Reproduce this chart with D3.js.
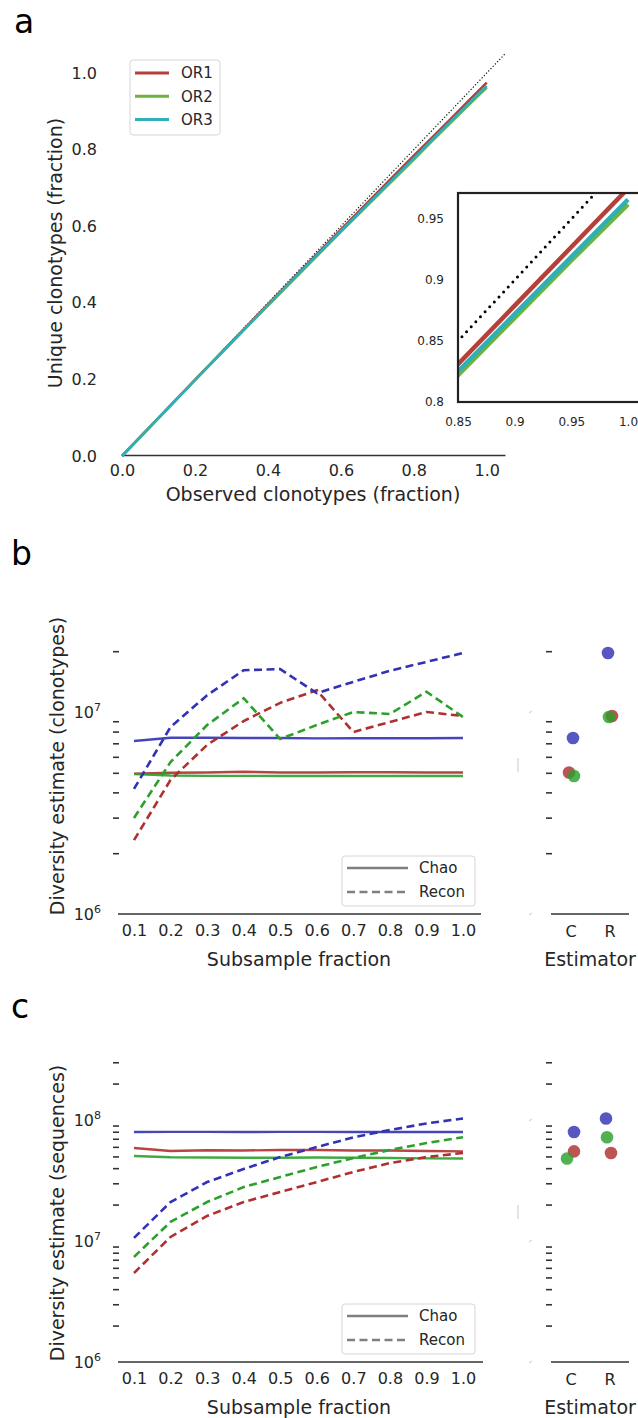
<!DOCTYPE HTML>
<html lang="en">
<head>
<meta charset="utf-8">
<title>clonotype diversity</title>
<style>
html, body {
    margin: 0;
    background: #fff;
 }
svg {
    display: block;
    font-family: "DejaVu Sans", sans-serif;
 }
.panel-letter {
    font-family: "DejaVu Sans", sans-serif;
    font-size: 33px;
    fill: #000;
 }
.title {
    font-size: 19px;
    fill: #262626;
 }
.legend text {
    font-size: 15px;
    fill: #262626;
 }
</style>
</head>
<body>

<svg id="chart" width="638" height="1418"></svg>

<script src="https://cdnjs.cloudflare.com/ajax/libs/d3/7.8.5/d3.min.js"></script>
<script>
(function() {
'use strict';

// ---- panel a : rarefaction (unique vs observed clonotypes)
const samples = ['OR1', 'OR2', 'OR3'];
const observedFrac = [0, 0.2, 0.4, 0.6, 0.8, 0.85, 0.9, 0.95, 1.0];
const uniqueOR1 = [0, 0.199, 0.396, 0.591, 0.784, 0.831, 0.879, 0.927, 0.975];
const uniqueOR2 = [0, 0.198, 0.393, 0.585, 0.774, 0.822, 0.869, 0.916, 0.962];
const uniqueOR3 = [0, 0.198, 0.394, 0.587, 0.777, 0.825, 0.872, 0.919, 0.966];
const diagonal = [0, 1.05];
const fracTicks = [0, 0.2, 0.4, 0.6, 0.8, 1.0];
const insetTicksX = [0.85, 0.9, 0.95, 1.0];
const insetLabelsX = ['0.85', '0.9', '0.95', '1.0'];
const insetTicksY = [0.8, 0.85, 0.9, 0.95];
const insetLabelsY = ['0.8', '0.85', '0.9', '0.95'];

// ---- panels b, c : diversity estimates vs subsample fraction
const subsample = [0.1, 0.2, 0.3, 0.4, 0.5, 0.6, 0.7, 0.8, 0.9, 1.0];
const estimators = ['C', 'R'];
const estimatorNames = ['Chao', 'Recon'];

const chaoClonOR1 = [4.95e6, 5.0e6, 5.02e6, 5.06e6, 5.02e6, 5.02e6, 5.03e6, 5.03e6, 5.02e6, 5.02e6];
const chaoClonOR2 = [4.93e6, 4.85e6, 4.83e6, 4.83e6, 4.82e6, 4.82e6, 4.82e6, 4.82e6, 4.82e6, 4.82e6];
const chaoClonOR3 = [7.18e6, 7.45e6, 7.45e6, 7.44e6, 7.43e6, 7.40e6, 7.41e6, 7.42e6, 7.42e6, 7.43e6];
const reconClonOR1 = [2.32e6, 4.61e6, 6.87e6, 9.02e6, 1.11e7, 1.28e7, 7.96e6, 8.92e6, 1.0e7, 9.55e6];
const reconClonOR2 = [2.99e6, 5.65e6, 8.62e6, 1.17e7, 7.35e6, 8.62e6, 1.0e7, 9.77e6, 1.26e7, 9.45e6];
const reconClonOR3 = [4.16e6, 8.43e6, 1.21e7, 1.61e7, 1.63e7, 1.24e7, 1.41e7, 1.60e7, 1.77e7, 1.96e7];

const chaoSeqOR1 = [5.87e7, 5.55e7, 5.62e7, 5.6e7, 5.65e7, 5.65e7, 5.6e7, 5.6e7, 5.55e7, 5.5e7];
const chaoSeqOR2 = [5.04e7, 4.92e7, 4.9e7, 4.88e7, 4.88e7, 4.9e7, 4.88e7, 4.85e7, 4.82e7, 4.8e7];
const chaoSeqOR3 = [7.96e7, 7.98e7, 7.98e7, 7.96e7, 7.98e7, 7.98e7, 7.96e7, 7.96e7, 7.96e7, 7.96e7];
const reconSeqOR1 = [5.44e6, 1.08e7, 1.61e7, 2.1e7, 2.54e7, 3.07e7, 3.72e7, 4.41e7, 4.94e7, 5.34e7];
const reconSeqOR2 = [7.38e6, 1.44e7, 2.1e7, 2.79e7, 3.38e7, 4.09e7, 4.85e7, 5.65e7, 6.45e7, 7.2e7];
const reconSeqOR3 = [1.06e7, 2.1e7, 3.07e7, 3.94e7, 4.94e7, 5.98e7, 7.19e7, 8.26e7, 9.37e7, 1.03e8];

const majorExpB = [6, 7];
const majorExpC = [6, 7, 8];

// styling
const colorsA = ['#b5403a', '#6db33f', '#2fb0b8'];
const colorsBC = ['#b03030', '#2ca02c', '#3232b4'];
const ink = '#262626';
// stripplot jitter, pixels, per estimator then sample
const jitterB = [[-1.5, 3.5, 2.5], [2.5, -0.5, -1.5]];
const jitterC = [[3.5, -3.5, 3.5], [1.5, -2.5, -3.5]];

const svg = d3.select('#chart');

function styleAxis(g, size) {
  g.attr('font-family', null).attr('font-size', size);
  g.selectAll('text').attr('fill', ink);
}

// ================= panel a =================
svg.append('text').attr('class', 'panel-letter').attr('x', 14).attr('y', 33).text('a');

const xA = d3.scaleLinear().domain([0, 1.05]).range([122, 505]);
const yA = d3.scaleLinear().domain([0, 1]).range([456, 73]);

const axA = svg.append('g').attr('transform', 'translate(0,455)')
  .call(d3.axisBottom(xA).tickValues(fracTicks).tickSize(0).tickSizeOuter(0)
    .tickPadding(10).tickFormat(d3.format('.1f')));
styleAxis(axA, 16);
axA.select('.domain').attr('stroke', '#333').attr('stroke-width', 1.5);

const ayA = svg.append('g').attr('transform', 'translate(122,0)')
  .call(d3.axisLeft(yA).tickValues(fracTicks).tickSize(0).tickPadding(25)
    .tickFormat(d3.format('.1f')));
styleAxis(ayA, 16);
ayA.select('.domain').remove();

const seriesA = [uniqueOR1, uniqueOR2, uniqueOR3];
const lineA = d3.line().x(d => xA(d[0])).y(d => yA(d[1]));

svg.append('path')
  .attr('d', lineA(diagonal.map(v => [v, v])))
  .attr('fill', 'none').attr('stroke', '#111')
  .attr('stroke-width', 1.2).attr('stroke-dasharray', '1.2,2');

seriesA.forEach((s, i) => {
  svg.append('path')
    .attr('d', lineA(observedFrac.map((x, j) => [x, s[j]])))
    .attr('fill', 'none').attr('stroke', colorsA[i]).attr('stroke-width', 2.6);
});

svg.append('text').attr('class', 'title')
  .attr('x', 313).attr('y', 501).attr('text-anchor', 'middle')
  .text('Observed clonotypes (fraction)');
svg.append('text').attr('class', 'title')
  .attr('transform', 'translate(62,253) rotate(-90)').attr('text-anchor', 'middle')
  .text('Unique clonotypes (fraction)');

// legend a
const legA = svg.append('g').attr('class', 'legend');
legA.append('rect').attr('x', 130).attr('y', 60).attr('width', 90).attr('height', 75)
  .attr('rx', 3).attr('fill', '#fff').attr('stroke', '#d6d6d6');
samples.forEach((name, i) => {
  const y = 73 + i * 23.3;
  legA.append('line').attr('x1', 135).attr('x2', 169).attr('y1', y).attr('y2', y)
    .attr('stroke', colorsA[i]).attr('stroke-width', 3);
  legA.append('text').attr('x', 181).attr('y', y).attr('dy', '0.35em').text(name);
});

// inset
const xI = d3.scaleLinear().domain([0.85, 1.0]).range([458, 628]);
const yI = d3.scaleLinear().domain([0.8, 0.95]).range([402, 219]);
const inset = svg.append('g');
svg.append('clipPath').attr('id', 'insetClip')
  .append('rect').attr('x', 458).attr('y', 193).attr('width', 240).attr('height', 209);
inset.append('rect').attr('x', 458).attr('y', 193).attr('width', 240).attr('height', 209)
  .attr('fill', '#fff');

const lineI = d3.line().x(d => xI(d[0])).y(d => yI(d[1]));
const insetPlot = inset.append('g').attr('clip-path', 'url(#insetClip)');
insetPlot.append('path')
  .attr('d', lineI(diagonal.map(v => [v, v])))
  .attr('fill', 'none').attr('stroke', '#000')
  .attr('stroke-width', 3).attr('stroke-linecap', 'round').attr('stroke-dasharray', '0,6.8');
seriesA.forEach((s, i) => {
  insetPlot.append('path')
    .attr('d', lineI(observedFrac.map((x, j) => [x, s[j]])))
    .attr('fill', 'none').attr('stroke', colorsA[i]).attr('stroke-width', 4.5);
});
inset.append('rect').attr('x', 458).attr('y', 193).attr('width', 240).attr('height', 209)
  .attr('fill', 'none').attr('stroke', '#222').attr('stroke-width', 2.2);

const axI = inset.append('g').attr('transform', 'translate(0,402)')
  .call(d3.axisBottom(xI).tickValues(insetTicksX).tickSize(0).tickPadding(15)
    .tickFormat((d, i) => insetLabelsX[i]));
styleAxis(axI, 12);
axI.select('.domain').remove();
const ayI = inset.append('g').attr('transform', 'translate(458,0)')
  .call(d3.axisLeft(yI).tickValues(insetTicksY).tickSize(0).tickPadding(14)
    .tickFormat((d, i) => insetLabelsY[i]));
styleAxis(ayI, 12);
ayI.select('.domain').remove();

// ================= panels b and c =================
function diversityPanel(cfg) {
  const x = d3.scaleLinear().domain([0.1, 1.0]).range([134, 463]);
  const y = d3.scaleLog().domain(cfg.yDomain).range(cfg.yRange);
  const xE = d3.scalePoint().domain(estimators).range([551, 629]).padding(0.5);
  const base = cfg.yRange[0];

  svg.append('text').attr('class', 'panel-letter')
    .attr('x', 11).attr('y', cfg.letterY).text(cfg.letter);

  const minors = y.ticks().filter(v => Math.abs(Math.log10(v) - Math.round(Math.log10(v))) > 1e-9);

  // left subplot axes
  const ay = svg.append('g').attr('transform', 'translate(119,0)')
    .call(d3.axisLeft(y).tickValues(minors).tickSize(6).tickFormat(''));
  ay.select('.domain').remove();
  ay.selectAll('.tick line').attr('stroke', '#333').attr('stroke-width', 1.6);

  cfg.majors.forEach(e => {
    const t = svg.append('text').attr('x', 101).attr('y', y(Math.pow(10, e)) + 5.5)
      .attr('text-anchor', 'end').attr('font-size', 16).attr('fill', ink);
    t.append('tspan').text('10');
    t.append('tspan').attr('font-size', 11).attr('dy', -7).text(e);
  });

  const ax = svg.append('g').attr('transform', 'translate(0,' + base + ')')
    .call(d3.axisBottom(x).tickValues(subsample).tickSize(0).tickPadding(11)
      .tickFormat(d3.format('.1f')));
  styleAxis(ax, 16);
  ax.select('.domain').remove();
  svg.append('line').attr('x1', 118).attr('x2', cfg.axisEnd).attr('y1', base).attr('y2', base)
    .attr('stroke', '#333').attr('stroke-width', 1.5);

  const line = d3.line().x(d => x(d[0])).y(d => y(d[1]));
  cfg.chao.forEach((s, i) => {
    svg.append('path').attr('d', line(subsample.map((f, j) => [f, s[j]])))
      .attr('fill', 'none').attr('stroke', colorsBC[i]).attr('stroke-width', 2.4)
      .attr('opacity', 0.9);
  });
  cfg.recon.forEach((s, i) => {
    svg.append('path').attr('d', line(subsample.map((f, j) => [f, s[j]])))
      .attr('fill', 'none').attr('stroke', colorsBC[i]).attr('stroke-width', 2.6)
      .attr('stroke-dasharray', '8,4.5');
  });

  // legend
  const leg = svg.append('g').attr('class', 'legend');
  leg.append('rect').attr('x', 342).attr('y', cfg.legendY).attr('width', 133).attr('height', 50)
    .attr('rx', 3).attr('fill', '#fff').attr('fill-opacity', 0.8).attr('stroke', '#d6d6d6');
  estimatorNames.forEach((name, i) => {
    const ly = cfg.legendY + 12 + i * 24;
    leg.append('line').attr('x1', 347).attr('x2', 408).attr('y1', ly).attr('y2', ly)
      .attr('stroke', '#7f7f7f').attr('stroke-width', 2.6)
      .attr('stroke-dasharray', i === 1 ? '8,4.5' : null);
    leg.append('text').attr('x', 419).attr('y', ly).attr('dy', '0.35em').text(name);
  });

  svg.append('text').attr('class', 'title')
    .attr('x', 299).attr('y', cfg.titleY).attr('text-anchor', 'middle')
    .text('Subsample fraction');
  svg.append('text').attr('class', 'title')
    .attr('transform', 'translate(64,' + cfg.yTitleMid + ') rotate(-90)')
    .attr('text-anchor', 'middle').text(cfg.yTitle);

  // right subplot: estimates at full sample
  const ayR = svg.append('g').attr('transform', 'translate(552,0)')
    .call(d3.axisLeft(y).tickValues(minors).tickSize(6).tickFormat(''));
  ayR.select('.domain').remove();
  ayR.selectAll('.tick line').attr('stroke', '#333').attr('stroke-width', 1.6);

  const axR = svg.append('g').attr('transform', 'translate(0,' + base + ')')
    .call(d3.axisBottom(xE).tickSize(0).tickPadding(12));
  styleAxis(axR, 16);
  axR.select('.domain').remove();
  svg.append('line').attr('x1', 551).attr('x2', 629).attr('y1', base).attr('y2', base)
    .attr('stroke', '#333').attr('stroke-width', 1.5);

  // clipped label remnants of the right subplot
  cfg.majors.forEach(e => {
    const ty = y(Math.pow(10, e));
    svg.append('line').attr('x1', 529).attr('x2', 532).attr('y1', ty + 1).attr('y2', ty - 1)
      .attr('stroke', '#c8c8c8').attr('stroke-width', 1);
  });
  svg.append('line').attr('x1', 518).attr('x2', 518)
    .attr('y1', cfg.yTitleMid - 8).attr('y2', cfg.yTitleMid + 6)
    .attr('stroke', '#d0d0d0').attr('stroke-width', 1.2);

  [cfg.chao, cfg.recon].forEach((group, k) => {
    group.forEach((s, i) => {
      svg.append('circle')
        .attr('cx', xE(estimators[k]) + cfg.jitter[k][i])
        .attr('cy', y(s[s.length - 1]))
        .attr('r', 6.3)
        .attr('fill', colorsBC[i]).attr('fill-opacity', 0.82);
    });
  });

  svg.append('text').attr('class', 'title')
    .attr('x', 590).attr('y', cfg.titleY).attr('text-anchor', 'middle').text('Estimator');
}

diversityPanel({
  letter: 'b', letterY: 565,
  yDomain: [1e6, 2.5e7], yRange: [914, 914 - 202 * Math.log10(25)],
  majors: majorExpB, axisEnd: 481,
  chao: [chaoClonOR1, chaoClonOR2, chaoClonOR3],
  recon: [reconClonOR1, reconClonOR2, reconClonOR3],
  legendY: 856, titleY: 966, yTitleMid: 766,
  yTitle: 'Diversity estimate (clonotypes)',
  jitter: jitterB
});

diversityPanel({
  letter: 'c', letterY: 1018,
  yDomain: [1e6, 3.5e8], yRange: [1362, 1362 - 121 * Math.log10(350)],
  majors: majorExpC, axisEnd: 483,
  chao: [chaoSeqOR1, chaoSeqOR2, chaoSeqOR3],
  recon: [reconSeqOR1, reconSeqOR2, reconSeqOR3],
  legendY: 1304, titleY: 1414, yTitleMid: 1213,
  yTitle: 'Diversity estimate (sequences)',
  jitter: jitterC
});

}());
</script>

</body>
</html>
